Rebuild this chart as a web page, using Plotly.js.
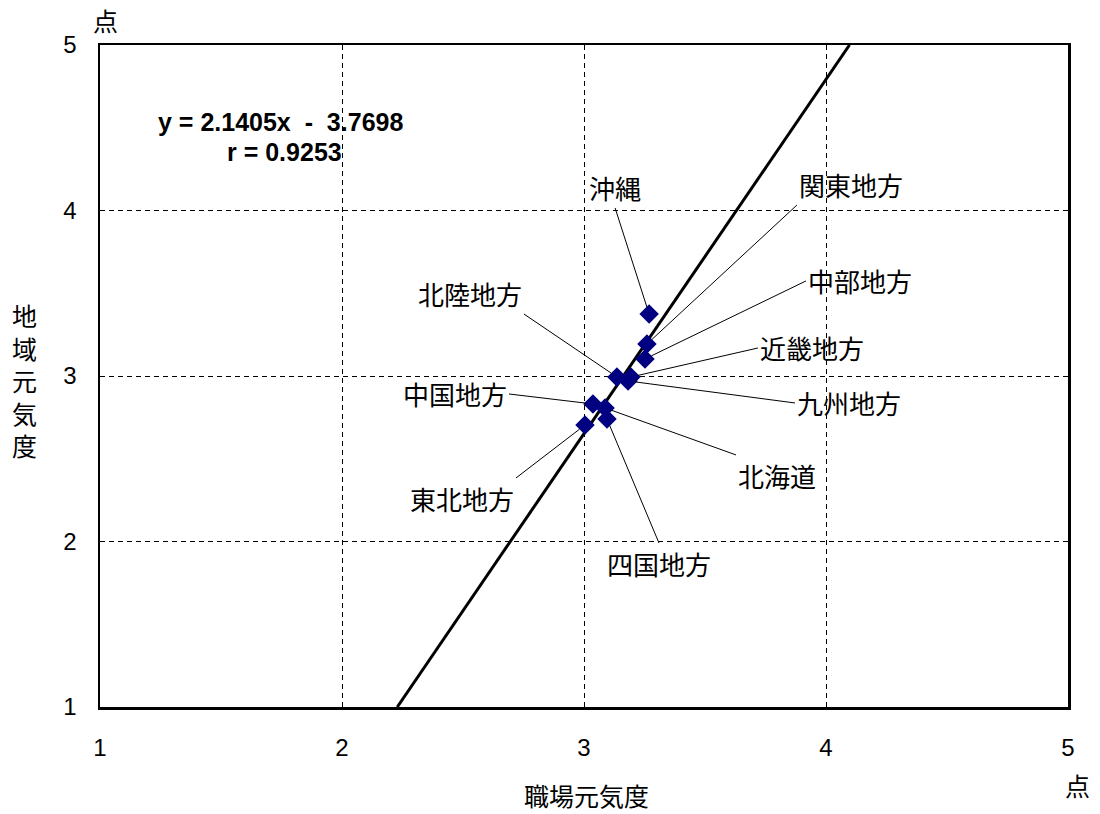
<!DOCTYPE html>
<html>
<head>
<meta charset="utf-8">
<script src="https://cdn.plot.ly/plotly-3.0.1.min.js"></script>
<style>html,body{margin:0;padding:0;background:#fff;}</style>
</head>
<body>
<div id="chart" style="width:1100px;height:814px;"></div>
<script>
// ---- data ----
const regions = ["沖縄", "関東地方", "中部地方", "近畿地方", "九州地方", "北陸地方", "中国地方", "北海道", "四国地方", "東北地方"];
const workplaceScore = [3.269, 3.260, 3.252, 3.194, 3.182, 3.136, 3.037, 3.087, 3.095, 3.004];
const regionScore   = [3.375, 3.193, 3.103, 2.994, 2.970, 2.994, 2.831, 2.807, 2.740, 2.704];
const slope = 2.1405;
const intercept = -3.7698;
const rValue = 0.9253;
const tickVals = [1, 2, 3, 4, 5];

// ---- label placement (pixel offsets of the leader-line tail from the point) ----
const labelPlacement = {
  "沖縄":   {ax: -34, ay: -106, xa: "center", ya: "bottom"},
  "関東地方": {ax: 150, ay: -139, xa: "left",   ya: "bottom"},
  "中部地方": {ax: 161, ay: -78,  xa: "left",   ya: "middle"},
  "近畿地方": {ax: 127, ay: -29,  xa: "left",   ya: "middle"},
  "九州地方": {ax: 167, ay: 22,   xa: "left",   ya: "middle"},
  "北陸地方": {ax: -93, ay: -63,  xa: "right",  ya: "bottom"},
  "中国地方": {ax: -84, ay: -10,  xa: "right",  ya: "middle"},
  "北海道":   {ax: 131, ay: 47,   xa: "left",   ya: "top"},
  "四国地方": {ax: 52,  ay: 124,  xa: "center", ya: "top"},
  "東北地方": {ax: -69, ay: 53,   xa: "right",  ya: "top"}
};

const fontLatin = "Liberation Sans, Arial, Noto Sans CJK JP, sans-serif";
const fontCJK = "Noto Sans CJK JP, Liberation Sans, sans-serif";

const lineX = [(tickVals[0] - intercept) / slope, (tickVals[tickVals.length - 1] - intercept) / slope];
const lineY = lineX.map(v => slope * v + intercept);

const traces = [
  {
    x: lineX, y: lineY, mode: "lines", type: "scatter",
    line: {color: "#000000", width: 3}, hoverinfo: "skip"
  },
  {
    x: workplaceScore, y: regionScore, mode: "markers", type: "scatter",
    marker: {symbol: "diamond", size: 15, color: "#000080", line: {width: 0}},
    text: regions
  }
];

const annotations = regions.map((name, i) => {
  const p = labelPlacement[name];
  return {
    x: workplaceScore[i], y: regionScore[i], xref: "x", yref: "y",
    text: name, showarrow: true, arrowhead: 0, arrowwidth: 1, arrowcolor: "#000",
    ax: p.ax, ay: p.ay, xanchor: p.xa, yanchor: p.ya, standoff: 7,
    font: {family: fontCJK, size: 26, color: "#000"}
  };
});

const sp = "&nbsp;&nbsp;";
annotations.push(
  {xref: "x", yref: "y", x: 1.745, y: 4.535, showarrow: false, xanchor: "center", yanchor: "middle",
   text: "y = " + slope + "x" + sp + "-" + sp + Math.abs(intercept).toFixed(4),
   font: {family: fontLatin, size: 25, color: "#000", weight: "bold"}},
  {xref: "x", yref: "y", x: 1.762, y: 4.353, showarrow: false, xanchor: "center", yanchor: "middle",
   text: "r = " + rValue.toFixed(4),
   font: {family: fontLatin, size: 25, color: "#000", weight: "bold"}},
  {xref: "paper", yref: "paper", x: 0.006, y: 1.038, showarrow: false, xanchor: "center", yanchor: "middle",
   text: "点", font: {family: fontCJK, size: 25, color: "#000"}},
  {xref: "paper", yref: "paper", x: 1.010, y: -0.118, showarrow: false, xanchor: "center", yanchor: "middle",
   text: "点", font: {family: fontCJK, size: 25, color: "#000"}},
  {xref: "paper", yref: "paper", x: 0.503, y: -0.133, showarrow: false, xanchor: "center", yanchor: "middle",
   text: "職場元気度", font: {family: fontCJK, size: 25, color: "#000"}},
  {xref: "paper", yref: "paper", x: -0.0775, y: 0.494, showarrow: false, xanchor: "center", yanchor: "middle",
   text: "地<br>域<br>元<br>気<br>度", font: {family: fontCJK, size: 25, color: "#000"}}
);

const axisCommon = {
  range: [1, 5], tickvals: tickVals, ticktext: tickVals.map(String),
  showline: true, mirror: true, linecolor: "#000", linewidth: 2.5,
  showgrid: true, gridcolor: "#000", gridwidth: 1, griddash: "5px,4px",
  zeroline: false, ticks: "", fixedrange: true,
  tickfont: {family: fontLatin, size: 24, color: "#000"}
};

const layout = {
  width: 1100, height: 814,
  margin: {l: 100, r: 32, t: 45, b: 107, pad: 0},
  paper_bgcolor: "#ffffff", plot_bgcolor: "#ffffff",
  showlegend: false,
  xaxis: Object.assign({}, axisCommon, {ticklabelstandoff: 18}),
  yaxis: Object.assign({}, axisCommon, {ticklabelstandoff: 16}),
  annotations: annotations
};

Plotly.newPlot("chart", traces, layout, {displayModeBar: false, staticPlot: true});
</script>
</body>
</html>
